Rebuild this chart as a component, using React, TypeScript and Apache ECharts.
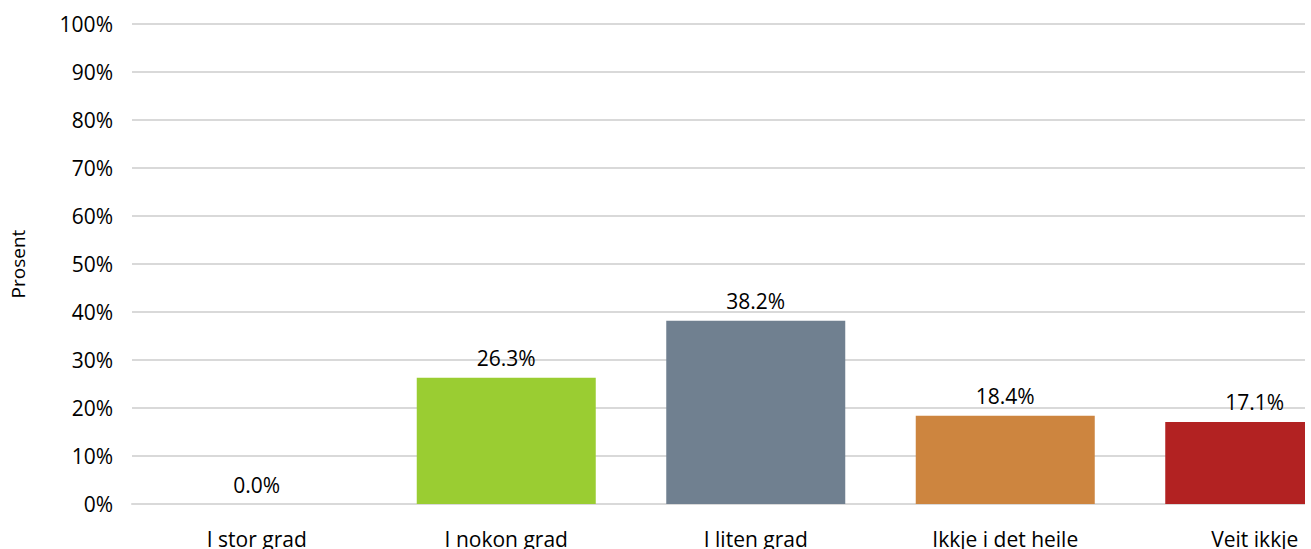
import React, { useEffect, useRef } from "react";
import * as echarts from "echarts";

const categories = ["I stor grad", "I nokon grad", "I liten grad", "Ikkje i det heile", "Veit ikkje"];
const values = [0.0, 26.3, 38.2, 18.4, 17.1];
const barColors = ["#4682B4", "#9ACD32", "#708090", "#CD853F", "#B22222"];
const yTicks = [0, 10, 20, 30, 40, 50, 60, 70, 80, 90, 100];

const FONT = "'Open Sans', sans-serif";

export default function App() {
  const ref = useRef<HTMLDivElement>(null);
  useEffect(() => {
    if (!ref.current) return;
    const chart = echarts.init(ref.current, undefined, { renderer: "svg" });
    chart.setOption({
      animation: false,
      backgroundColor: "#ffffff",
      grid: { left: 132, right: 20.5, top: 24, bottom: 66 },
      xAxis: {
        type: "category",
        data: categories,
        axisLine: { show: true, lineStyle: { color: "#d9d9d9", width: 2 } },
        axisTick: { show: false },
        axisLabel: { color: "#000", fontFamily: FONT, fontSize: 21, margin: 24 },
      },
      yAxis: {
        type: "value",
        min: yTicks[0],
        max: yTicks[yTicks.length - 1],
        interval: 10,
        name: "Prosent",
        nameLocation: "middle",
        nameGap: 105,
        nameTextStyle: { color: "#000", fontFamily: FONT, fontSize: 19 },
        axisLine: { show: false },
        axisTick: { show: false },
        splitLine: { lineStyle: { color: "#d9d9d9", width: 2 } },
        axisLabel: { color: "#000", fontFamily: FONT, fontSize: 21, margin: 19, formatter: (v: number) => v + "%" },
      },
      series: [
        {
          type: "bar",
          barWidth: 179,
          data: values.map((v, i) => ({ value: v, itemStyle: { color: barColors[i] } })),
          label: {
            show: true,
            position: "top",
            distance: 9,
            color: "#000",
            fontFamily: FONT,
            fontSize: 21,
            formatter: (p: any) => Number(p.value).toFixed(1) + "%",
          },
        },
      ],
    });
    return () => chart.dispose();
  }, []);
  return (
    <div style={{ position: "absolute", left: 0, top: 0, width: 1305, height: 549, overflow: "hidden", background: "#fff" }}>
      <div ref={ref} style={{ width: 1400, height: 570 }} />
    </div>
  );
}
